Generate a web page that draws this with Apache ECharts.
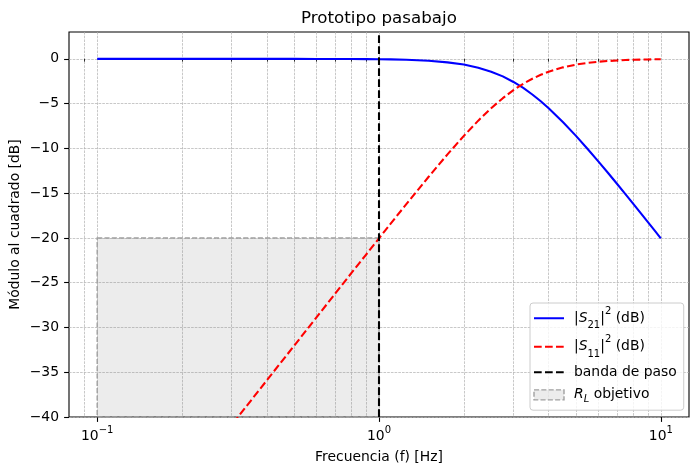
<!DOCTYPE html>
<html>
<head>
<meta charset="utf-8">
<script src="https://cdn.jsdelivr.net/npm/echarts@6/dist/echarts.min.js"></script>
<style>
  html, body { margin: 0; padding: 0; background: #fff; }
  #chart { width: 698px; height: 475px; }
</style>
</head>
<body>
<div id="chart"></div>
<script>
// frecuencias muestreadas (Hz) y lecturas en dB
const freq = [0.1, 0.2, 0.3, 0.4, 0.5, 0.6, 0.7, 0.8, 0.9, 1, 1.1, 1.25, 1.5, 1.75, 2, 2.25, 2.5, 2.75, 3, 3.25, 3.5, 3.75, 4, 4.5, 5, 5.5, 6, 6.5, 7, 7.5, 8, 8.5, 9, 9.5, 10];
const s21 = [0, 0, 0, 0, 0, -0.01, -0.01, -0.02, -0.03, -0.04, -0.06, -0.1, -0.21, -0.39, -0.64, -0.99, -1.43, -1.96, -2.58, -3.25, -3.98, -4.74, -5.51, -7.08, -8.6, -10.07, -11.45, -12.75, -13.98, -15.14, -16.23, -17.26, -18.24, -19.16, -20.04];
const s11 = [-60, -48, -40.9, -35.9, -32.04, -28.87, -26.2, -23.88, -21.86, -20.04, -18.4, -16.23, -13.17, -10.67, -8.6, -6.9, -5.51, -4.39, -3.49, -2.78, -2.22, -1.78, -1.43, -0.95, -0.64, -0.45, -0.32, -0.24, -0.18, -0.13, -0.1, -0.08, -0.07, -0.05, -0.04];

// banda de paso y región R_L objetivo
const passbandEdge = 1;
const rlBox = { fmin: 0.1, fmax: 1, top: -20, bottom: -40 };

// ticks
const xMajor = [0.1, 1, 10];
const xMinor = [0.09, 0.2, 0.3, 0.4, 0.5, 0.6, 0.7, 0.8, 0.9, 2, 3, 4, 5, 6, 7, 8, 9];
const yTicks = [-40, -35, -30, -25, -20, -15, -10, -5, 0];

const FONT = 'DejaVu Sans';
const FS = 13.9;
const LW = 2.08;
const DASH = [7.7, 3.3];
const GRID_LINE = { show: true, lineStyle: { color: '#b0b0b0', width: 0.7, type: [2.6, 1.1] } };
const RL_STYLE = { color: 'rgba(128,128,128,0.15)', borderColor: '#a0a0a0', borderWidth: 1.39, borderType: [5.1, 2.2], opacity: 1 };

const pair = (xs, ys) => xs.map((x, i) => [x, ys[i]]);

const txt = (size, lh, extra) => Object.assign({ fontFamily: FONT, fontSize: size, color: '#000', lineHeight: lh }, extra || {});
const supRich = {
  b: txt(FS, 22),
  sup: txt(10, 12, { verticalAlign: 'top' }),
  // legend rows
  s: txt(FS, 24.5),
  si: txt(FS, 24.5, { fontStyle: 'italic' }),
  ssub: txt(10, 12, { verticalAlign: 'bottom' }),
  ssup: txt(10, 10, { verticalAlign: 'top' }),
  c: txt(FS, 18.5, { height: 18.5 }),
  r: txt(FS, 18.7, { height: 18.7 }),
  ri: txt(FS, 18.7, { height: 18.7, fontStyle: 'italic' }),
  rsub: txt(10, 12, { verticalAlign: 'bottom', fontStyle: 'italic' })
};

const xLabel = v => {
  const e = Math.round(Math.log10(v));
  return '{b|10}{sup|' + (e < 0 ? '−' + Math.abs(e) : e) + '}';
};

const chart = echarts.init(document.getElementById('chart'), null, { renderer: 'canvas' });

const xBase = {
  type: 'log',
  logBase: 10,
  min: Math.pow(10, -1.1),
  max: Math.pow(10, 1.1),
  gridIndex: 0
};

chart.setOption({
  animation: false,
  backgroundColor: '#fff',
  title: {
    text: 'Prototipo pasabajo',
    left: 301,
    top: 10,
    padding: 0,
    textStyle: { fontFamily: FONT, fontSize: 16.7, fontWeight: 'normal', color: '#000' }
  },
  grid: {
    left: 69, right: 9, top: 32, bottom: 58,
    containLabel: false,
    outerBoundsMode: 'none',
    show: true, borderColor: '#000', borderWidth: 1.1, backgroundColor: 'transparent'
  },
  xAxis: [
    Object.assign({}, xBase, {
      axisLine: { show: false },
      axisTick: { show: true, inside: false, length: 2.8, customValues: xMinor, lineStyle: { color: '#000', width: 0.8 } },
      axisLabel: { show: false },
      splitLine: GRID_LINE,
      minorTick: { show: false },
      minorSplitLine: { show: false }
    }),
    Object.assign({}, xBase, {
      position: 'bottom',
      name: 'Frecuencia (f) [Hz]',
      nameLocation: 'middle',
      nameGap: 33,
      nameMoveOverlap: false,
      nameTextStyle: { fontFamily: FONT, fontSize: FS, color: '#000' },
      axisLine: { show: false },
      axisTick: { show: true, inside: false, length: 4.9, customValues: xMajor, lineStyle: { color: '#000', width: 1.1 } },
      axisLabel: { show: true, margin: 8, customValues: xMajor, formatter: xLabel, rich: supRich },
      splitLine: GRID_LINE
    })
  ],
  yAxis: {
    type: 'value',
    min: -40,
    max: 3,
    name: 'Módulo al cuadrado [dB]',
    nameLocation: 'middle',
    nameRotate: 90,
    nameGap: 47,
    nameMoveOverlap: false,
    nameTextStyle: { fontFamily: FONT, fontSize: FS, color: '#000' },
    axisLine: { show: false },
    axisTick: { show: true, length: 4.9, customValues: yTicks, lineStyle: { color: '#000', width: 1.1 } },
    axisLabel: {
      margin: 10, customValues: yTicks,
      fontFamily: FONT, fontSize: FS, color: '#000',
      formatter: v => (v < 0 ? '−' + Math.abs(v) : String(v))
    },
    splitLine: GRID_LINE
  },
  legend: {
    orient: 'vertical',
    left: 530,
    top: 303,
    padding: [3, 7, 6, 3],
    itemWidth: 30,
    itemHeight: 10,
    itemGap: 4,
    backgroundColor: 'rgba(255,255,255,0.8)',
    borderColor: '#cccccc',
    borderWidth: 1,
    borderRadius: 3,
    itemStyle: { opacity: 0 },
    textStyle: { fontFamily: FONT, fontSize: FS, color: '#000', padding: [0, 0, 0, 5], rich: supRich },
    formatter: name => {
      if (name === 'S21') return '{s||}{si|S}{ssub|21}{s||}{ssup|2}{s| (dB)}';
      if (name === 'S11') return '{s||}{si|S}{ssub|11}{s||}{ssup|2}{s| (dB)}';
      if (name === 'RL') return '{ri|R}{rsub|L}{r| objetivo}';
      return '{c|' + name + '}';
    },
    data: [
      { name: 'S21' },
      { name: 'S11' },
      { name: 'banda de paso' },
      { name: 'RL', icon: 'rect', itemStyle: RL_STYLE }
    ]
  },
  series: [
    {
      name: 'RL',
      type: 'line',
      xAxisIndex: 0,
      data: [],
      color: 'rgba(128,128,128,0.15)',
      markArea: {
        silent: true,
        itemStyle: RL_STYLE,
        data: [[{ coord: [rlBox.fmin, rlBox.top] }, { coord: [rlBox.fmax, rlBox.bottom] }]]
      }
    },
    {
      name: 'S21',
      type: 'line',
      xAxisIndex: 0,
      data: pair(freq, s21),
      symbol: 'none',
      color: '#0000ff',
      lineStyle: { color: '#0000ff', width: LW },
      z: 3
    },
    {
      name: 'S11',
      type: 'line',
      xAxisIndex: 0,
      data: pair(freq, s11),
      symbol: 'none',
      color: '#ff0000',
      lineStyle: { color: '#ff0000', width: LW, type: DASH },
      z: 3
    },
    {
      name: 'banda de paso',
      type: 'line',
      xAxisIndex: 0,
      data: [[passbandEdge, -40], [passbandEdge, 3]],
      symbol: 'none',
      color: '#000',
      lineStyle: { color: '#000', width: LW, type: DASH },
      z: 4
    }
  ]
});
</script>
</body>
</html>
